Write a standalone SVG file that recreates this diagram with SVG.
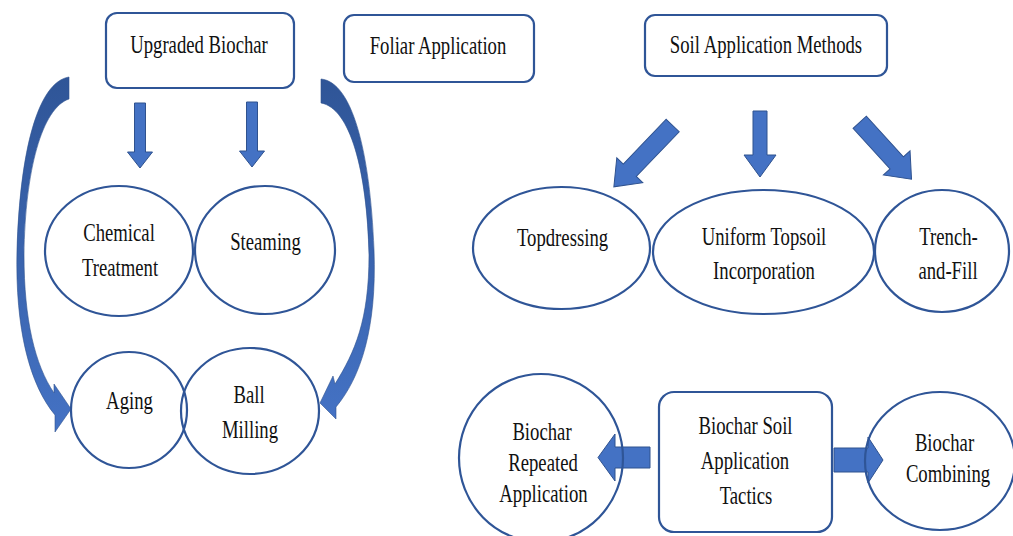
<svg xmlns="http://www.w3.org/2000/svg" width="1013" height="536" viewBox="0 0 1013 536">
<style>
.box{fill:#fff;stroke:#2F5597;stroke-width:2.2}
.ell{fill:none;stroke:#2F5597;stroke-width:2.2}
.arr{fill:#4472C4;stroke:#2F528F;stroke-width:1}
.curv{fill:url(#cg);stroke:#2F528F;stroke-width:0.6}
.t{font-family:'Liberation Serif','Times New Roman',serif;font-size:26px;fill:#111;text-anchor:middle}
</style>
<defs>
<linearGradient id="cg" x1="0" y1="0" x2="0" y2="1">
<stop offset="0" stop-color="#2F5597"/>
<stop offset="1" stop-color="#4472C4"/>
</linearGradient>
</defs>
<rect width="1013" height="536" fill="#fff"/>
<g id="connectors">
<path class="curv" d="M69,77 C38,82 20,150 17,250 C15,330 30,385 55,415 L55,432 L71,409 L54,384 L54,393 C35,365 24,320 24,255 C25,170 42,108 69,99 Z"/>
<path class="curv" d="M321,79 C352,82 370,150 374,250 C377,330 360,378 336,407 L336,419 L320,403 L333,376 L335,384 C355,352 369,320 369,255 C367,170 350,108 321,103 Z"/>
<polygon class="arr" points="-5.5,0 5.5,0 5.5,49 12.5,49 0,65 -12.5,49 -5.5,49" transform="translate(140,103)"/>
<polygon class="arr" points="-5.5,0 5.5,0 5.5,49 12.5,49 0,65 -12.5,49 -5.5,49" transform="translate(252,102)"/>
<polygon class="arr" points="-7,0 7,0 7,44 16,44 0,66 -16,44 -7,44" transform="translate(760,111)"/>
<polygon class="arr" points="-9,0 9,0 9,62 18,62 0,85 -18,62 -9,62" transform="translate(672.7,125.5) rotate(43.8)"/>
<polygon class="arr" points="-9,0 9,0 9,55 18,55 0,77 -18,55 -9,55" transform="translate(859.7,122.2) rotate(-42.3)"/>
<polygon class="arr" points="-10.5,0 10.5,0 10.5,35 23.5,35 0,52 -23.5,35 -10.5,35" transform="translate(650,457.5) rotate(90)"/>
<polygon class="arr" points="-12,0 12,0 12,34 23,34 0,49 -23,34 -12,34" transform="translate(834,460) rotate(-90)"/>
</g>
<g id="upgraded-biochar">
<rect class="box" x="106" y="13" width="188" height="75" rx="11"/>
<text class="t" transform="translate(199,53) scale(0.72,1)">Upgraded Biochar</text>
</g>
<g id="foliar-application">
<rect class="box" x="344" y="15" width="190" height="67" rx="10"/>
<text class="t" transform="translate(438,54) scale(0.72,1)">Foliar Application</text>
</g>
<g id="soil-application-methods">
<rect class="box" x="645" y="15" width="242" height="61" rx="10"/>
<text class="t" transform="translate(766,53) scale(0.72,1)">Soil Application Methods</text>
</g>
<g id="chemical-treatment">
<ellipse class="ell" cx="119" cy="251" rx="74" ry="65"/>
<text class="t" transform="translate(119,241) scale(0.72,1)">Chemical</text>
<text class="t" transform="translate(120,276) scale(0.72,1)">Treatment</text>
</g>
<g id="steaming">
<ellipse class="ell" cx="265" cy="250" rx="70" ry="64"/>
<text class="t" transform="translate(265.5,250) scale(0.72,1)">Steaming</text>
</g>
<g id="aging">
<ellipse class="ell" cx="129" cy="410" rx="58" ry="58"/>
<text class="t" transform="translate(129.5,409) scale(0.72,1)">Aging</text>
</g>
<g id="ball-milling">
<ellipse class="ell" cx="250" cy="411" rx="69" ry="63"/>
<text class="t" transform="translate(249,403) scale(0.72,1)">Ball</text>
<text class="t" transform="translate(250,438) scale(0.72,1)">Milling</text>
</g>
<g id="topdressing">
<ellipse class="ell" cx="561.5" cy="248" rx="88.5" ry="61"/>
<text class="t" transform="translate(562.5,246) scale(0.72,1)">Topdressing</text>
</g>
<g id="uniform-topsoil">
<ellipse class="ell" cx="763.5" cy="252" rx="110.5" ry="62"/>
<text class="t" transform="translate(764,245) scale(0.72,1)">Uniform Topsoil</text>
<text class="t" transform="translate(764,279) scale(0.72,1)">Incorporation</text>
</g>
<g id="trench-and-fill">
<ellipse class="ell" cx="942" cy="251" rx="67" ry="61"/>
<text class="t" transform="translate(948.5,245) scale(0.72,1)">Trench-</text>
<text class="t" transform="translate(948,279) scale(0.72,1)">and-Fill</text>
</g>
<g id="biochar-repeated-application">
<ellipse class="ell" cx="541" cy="458" rx="82" ry="84"/>
<text class="t" transform="translate(542,440) scale(0.72,1)">Biochar</text>
<text class="t" transform="translate(543,471) scale(0.72,1)">Repeated</text>
<text class="t" transform="translate(543.5,502) scale(0.72,1)">Application</text>
</g>
<g id="biochar-soil-application-tactics">
<rect class="box" x="659" y="392" width="173" height="140" rx="15"/>
<text class="t" transform="translate(745.5,434) scale(0.72,1)">Biochar Soil</text>
<text class="t" transform="translate(745,469) scale(0.72,1)">Application</text>
<text class="t" transform="translate(746,504) scale(0.72,1)">Tactics</text>
</g>
<g id="biochar-combining">
<ellipse class="ell" cx="940" cy="461" rx="75" ry="69"/>
<text class="t" transform="translate(944.5,451) scale(0.72,1)">Biochar</text>
<text class="t" transform="translate(948,482) scale(0.72,1)">Combining</text>
</g>
</svg>
